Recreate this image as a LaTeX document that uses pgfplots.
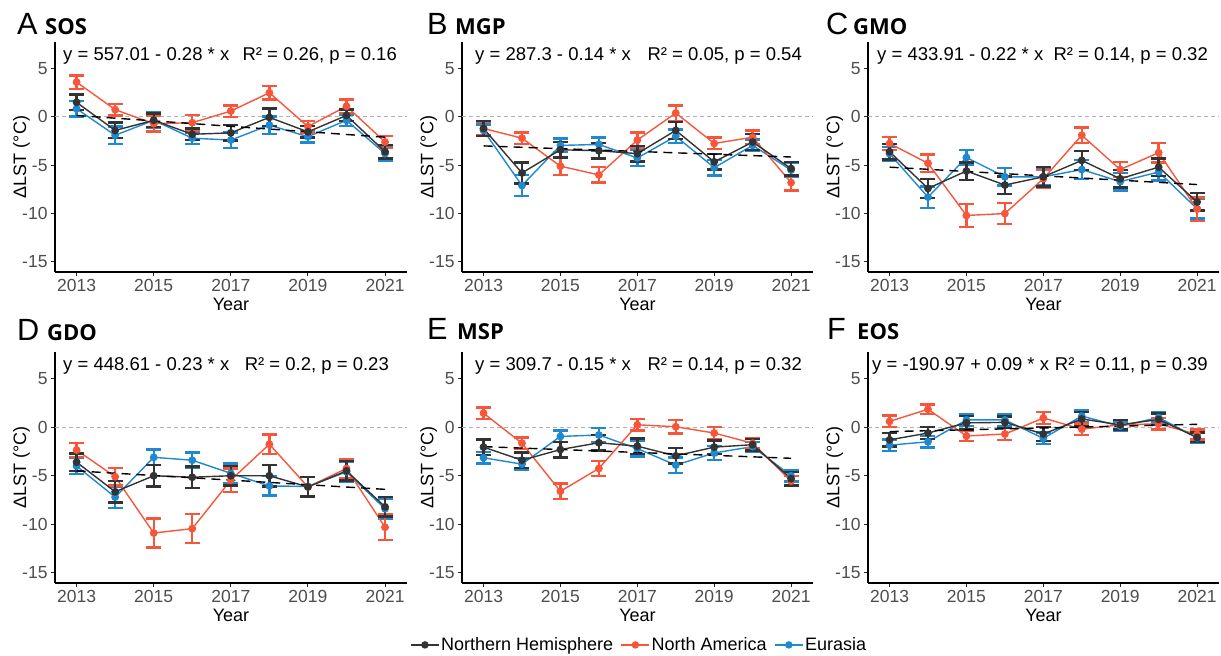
\documentclass[border=0pt]{standalone}
\usepackage{fontspec}
\setmainfont{Liberation Sans}
\newfontfamily\osfont{Open Sans}
\usepackage{pgfplots}
\pgfplotsset{compat=1.18}
\usepackage{pgfplotstable}

\definecolor{nh}{HTML}{333333}
\definecolor{na}{HTML}{F7563A}
\definecolor{eu}{HTML}{1E88D0}
\definecolor{tickgray}{HTML}{4D4D4D}

\pgfplotstableread{
year nh nhe na nae eu eue
2013 1.5 0.8 3.6 0.7 0.85 0.8
2014 -1.4 0.8 0.75 0.6 -1.9 0.9
2015 -0.35 0.7 -0.7 0.8 -0.35 0.8
2016 -1.8 0.6 -0.6 0.8 -2.2 0.6
2017 -1.65 0.8 0.6 0.6 -2.4 0.8
2018 -0.05 0.9 2.5 0.7 -0.85 0.9
2019 -1.55 0.6 -1.0 0.6 -2.05 0.6
2020 0.15 0.6 1.1 0.7 -0.35 0.6
2021 -3.6 0.7 -2.6 0.6 -3.8 0.7
}\tabA
\pgfplotstableread{
year nh nhe na nae eu eue
2013 -1.2 0.8 -1.2 0.7 -1.4 0.6
2014 -5.8 1.1 -2.2 0.6 -7.1 1.1
2015 -3.4 0.8 -5.1 0.9 -2.95 0.7
2016 -3.5 0.8 -6.0 0.8 -2.85 0.7
2017 -3.8 0.8 -2.4 0.8 -4.25 0.8
2018 -1.4 0.9 0.4 0.8 -2.0 0.7
2019 -4.65 0.8 -2.75 0.6 -5.25 0.8
2020 -2.6 0.8 -2.1 0.7 -2.95 0.6
2021 -5.35 0.7 -6.8 0.8 -5.5 0.7
}\tabB
\pgfplotstableread{
year nh nhe na nae eu eue
2013 -3.6 0.8 -2.75 0.7 -3.8 0.7
2014 -7.4 1.0 -4.8 0.9 -8.3 1.1
2015 -5.6 0.9 -10.2 1.2 -4.2 0.8
2016 -7.05 0.9 -10.0 1.1 -6.2 0.9
2017 -6.2 1.0 -6.4 0.9 -6.2 0.9
2018 -4.5 1.0 -1.9 0.8 -5.45 1.0
2019 -6.4 0.9 -5.45 0.8 -6.7 0.9
2020 -5.2 0.9 -3.7 1.0 -5.7 0.9
2021 -8.8 0.9 -9.55 1.2 -9.5 1.0
}\tabC
\pgfplotstableread{
year nh nhe na nae eu eue
2013 -3.6 0.9 -2.35 0.7 -4.0 0.8
2014 -6.65 1.1 -5.1 0.9 -7.2 1.1
2015 -5.0 1.1 -10.9 1.5 -3.1 0.8
2016 -5.15 1.1 -10.45 1.5 -3.4 0.8
2017 -5.0 1.0 -5.45 1.2 -4.75 1.0
2018 -5.0 1.1 -1.75 1.0 -6.05 1.0
2019 -6.15 1.0 -6.15 1.0 -6.1 1.0
2020 -4.5 1.0 -4.25 1.0 -4.6 1.0
2021 -8.2 1.0 -10.3 1.3 -8.4 1.0
}\tabD
\pgfplotstableread{
year nh nhe na nae eu eue
2013 -2.05 0.8 1.45 0.6 -3.15 0.6
2014 -3.4 0.8 -1.65 0.6 -3.8 0.6
2015 -2.3 0.8 -6.6 0.8 -0.95 0.6
2016 -1.6 0.8 -4.25 0.8 -0.8 0.7
2017 -1.95 0.8 0.25 0.6 -2.2 0.8
2018 -2.95 0.8 0.05 0.7 -3.9 0.8
2019 -2.05 0.7 -0.6 0.6 -2.65 0.7
2020 -1.8 0.6 -1.65 0.5 -2.0 0.5
2021 -5.3 0.7 -5.55 0.5 -5.0 0.6
}\tabE
\pgfplotstableread{
year nh nhe na nae eu eue
2013 -1.3 0.7 0.6 0.6 -1.85 0.6
2014 -0.6 0.6 1.85 0.5 -1.5 0.6
2015 0.45 0.7 -0.9 0.5 0.75 0.6
2016 0.5 0.6 -0.7 0.6 0.75 0.6
2017 -0.7 0.7 0.95 0.6 -1.15 0.6
2018 0.85 0.7 -0.2 0.6 1.15 0.6
2019 0.25 0.5 0.25 0.5 0.1 0.5
2020 0.8 0.6 0.35 0.6 1.0 0.5
2021 -1.05 0.5 -0.75 0.5 -1.1 0.5
}\tabF

\pgfplotsset{
  panel/.style={
    width=352bp, height=230bp, scale only axis,
    xmin=2012.44, xmax=2021.57, ymin=-16.05, ymax=7.75,
    axis lines*=left,
    axis line style={line width=1.4bp, black},
    xtick={2013,2015,2017,2019,2021},
    xticklabels={2013,2015,2017,2019,2021},
    ytick={-15,-10,-5,0,5},
    yticklabels={-15,-10,-5,0,5},
    tick align=outside, major tick length=4bp,
    tick style={line width=1bp, black!85},
    ticklabel style={font=\fontsize{17.5bp}{18bp}\selectfont, text=tickgray},
    xlabel={Year}, ylabel={ΔLST (°C)},
    label style={font=\fontsize{18bp}{20bp}\selectfont},
    xlabel style={at={(axis description cs:0.5,-0.139)}, anchor=center},
    ylabel style={at={(axis description cs:-0.095,0.5)}, anchor=center},
    clip=false,
  },
}
\newcommand{\zeroline}{\addplot[forget plot, color=black!30, line width=0.8bp, dash pattern=on 4bp off 3bp] coordinates {(2012.44,0) (2021.57,0)};}
\newcommand{\series}[3]{\addplot[color=#3, line width=1.4bp, mark=*, mark size=3.2bp, mark options={solid}, error bars/.cd, y dir=both, y explicit, error mark=|, error bar style={line width=2.4bp}, error mark options={line width=2.4bp, mark size=7.5bp}] table[x=year, y=#2, y error=#2e] {#1};}
\newcommand{\allseries}[1]{\series{#1}{eu}{eu}\series{#1}{na}{na}\series{#1}{nh}{nh}}
\newcommand{\trend}[2]{\addplot[forget plot, black, line width=1.4bp, dash pattern=on 9bp off 6bp] coordinates {(2013,#1) (2021,#2)};}

\begin{document}
\begin{tikzpicture}
\useasboundingbox (0,0) rectangle (1221bp,-656bp);

\begin{axis}[panel, at={(55bp,-272bp)}, anchor=south west]
\zeroline \allseries{\tabA} \trend{0.15}{-2.1}
\end{axis}
\begin{axis}[panel, width=351bp, at={(462bp,-272bp)}, anchor=south west]
\zeroline \allseries{\tabB} \trend{-3.0}{-4.15}
\end{axis}
\begin{axis}[panel, width=351bp, at={(868bp,-272bp)}, anchor=south west]
\zeroline \allseries{\tabC} \trend{-5.2}{-7.0}
\end{axis}
\begin{axis}[panel, height=231bp, at={(55bp,-583bp)}, anchor=south west]
\zeroline \allseries{\tabD} \trend{-4.5}{-6.4}
\end{axis}
\begin{axis}[panel, width=351bp, height=231bp, at={(462bp,-583bp)}, anchor=south west,
  reverse legend, legend columns=3,
  legend style={draw=none, fill=none, at={(0.504,-0.268)}, anchor=center,
    font=\fontsize{18bp}{20bp}\selectfont,
    nodes={inner xsep=1.5bp},
    /tikz/every even column/.append style={column sep=6bp}},
  legend image code/.code={\draw[#1, mark repeat=2, mark phase=2, mark size=3bp] plot coordinates {(0bp,0bp) (14bp,0bp) (28bp,0bp)};}]
\zeroline \allseries{\tabE} \trend{-2.0}{-3.2}
\legend{Eurasia, North America, Northern Hemisphere}
\end{axis}
\begin{axis}[panel, width=351bp, height=231bp, at={(868bp,-583bp)}, anchor=south west]
\zeroline \allseries{\tabF} \trend{-0.45}{0.3}
\end{axis}

% panel titles
\def\tagfont{\fontsize{30.7bp}{32bp}\selectfont}
\def\namefont{\osfont\bfseries\fontsize{22bp}{24bp}\selectfont}
\def\eqfont{\fontsize{18.5bp}{20bp}\selectfont}
\node[anchor=base west, inner sep=0pt, font=\tagfont] at (17bp,-34bp) {A};
\node[anchor=base west, inner sep=0pt, font=\namefont] at (45bp,-34bp) {SOS};
\node[anchor=base west, inner sep=0pt, font=\tagfont] at (427bp,-34bp) {B};
\node[anchor=base west, inner sep=0pt, font=\namefont] at (455bp,-34bp) {MGP};
\node[anchor=base west, inner sep=0pt, font=\tagfont] at (826bp,-34bp) {C};
\node[anchor=base west, inner sep=0pt, font=\namefont] at (853bp,-34bp) {GMO};
\node[anchor=base west, inner sep=0pt, font=\tagfont] at (17bp,-340bp) {D};
\node[anchor=base west, inner sep=0pt, font=\namefont] at (47bp,-340bp) {GDO};
\node[anchor=base west, inner sep=0pt, font=\tagfont] at (427bp,-339bp) {E};
\node[anchor=base west, inner sep=0pt, font=\namefont] at (457bp,-339bp) {MSP};
\node[anchor=base west, inner sep=0pt, font=\tagfont] at (827bp,-339bp) {F};
\node[anchor=base west, inner sep=0pt, font=\namefont] at (857bp,-339bp) {EOS};

% equations
\node[anchor=base west, inner sep=0pt, font=\eqfont] at (63bp,-60bp) {y = 557.01 - 0.28 * x};
\node[anchor=base east, inner sep=0pt, font=\eqfont] at (397bp,-60bp) {R² = 0.26, p = 0.16};
\node[anchor=base west, inner sep=0pt, font=\eqfont] at (475bp,-60bp) {y = 287.3 - 0.14 * x};
\node[anchor=base east, inner sep=0pt, font=\eqfont] at (802bp,-60bp) {R² = 0.05, p = 0.54};
\node[anchor=base west, inner sep=0pt, font=\eqfont] at (877bp,-60bp) {y = 433.91 - 0.22 * x};
\node[anchor=base east, inner sep=0pt, font=\eqfont] at (1208bp,-60bp) {R² = 0.14, p = 0.32};
\node[anchor=base west, inner sep=0pt, font=\eqfont] at (63bp,-370.7bp) {y = 448.61 - 0.23 * x};
\node[anchor=base east, inner sep=0pt, font=\eqfont] at (389bp,-370.7bp) {R² = 0.2, p = 0.23};
\node[anchor=base west, inner sep=0pt, font=\eqfont] at (475bp,-370.7bp) {y = 309.7 - 0.15 * x};
\node[anchor=base east, inner sep=0pt, font=\eqfont] at (802bp,-370.7bp) {R² = 0.14, p = 0.32};
\node[anchor=base west, inner sep=0pt, font=\eqfont] at (872bp,-370.7bp) {y = -190.97 + 0.09 * x};
\node[anchor=base east, inner sep=0pt, font=\eqfont] at (1208bp,-370.7bp) {R² = 0.11, p = 0.39};
\end{tikzpicture}
\end{document}
